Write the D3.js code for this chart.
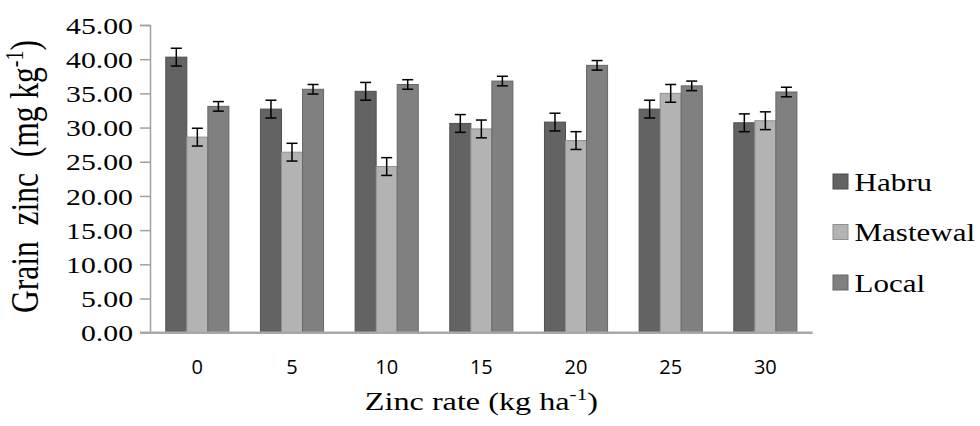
<!DOCTYPE html>
<html>
<head>
<meta charset="utf-8">
<script src="https://cdn.jsdelivr.net/npm/d3@7"></script>
<style>
  html, body { margin: 0; padding: 0; background: #fff; }
  svg { display: block; }
  .serif { font-family: "Liberation Serif", "Tinos", "Times New Roman", "DejaVu Serif", serif; }
  .sans { font-family: "Open Sans", "Noto Sans", sans-serif; }
</style>
</head>
<body>
<svg id="chart" width="980" height="426"></svg>
<script>
// ---- data ----
const categories = ["0", "5", "10", "15", "20", "25", "30"];
const seriesNames = ["Habru", "Mastewal", "Local"];
const habru    = [40.3, 32.7, 35.3, 30.6, 30.8, 32.7, 30.7];
const mastewal = [28.6, 26.4, 24.3, 29.8, 28.1, 35.0, 31.0];
const local    = [33.1, 35.6, 36.3, 36.8, 39.1, 36.1, 35.2];
const habruErr    = [1.3, 1.3, 1.3, 1.3, 1.3, 1.3, 1.3];
const mastewalErr = [1.3, 1.3, 1.3, 1.3, 1.3, 1.3, 1.3];
const localErr    = [0.7, 0.7, 0.7, 0.7, 0.7, 0.7, 0.7];
const yTicks = [0, 5, 10, 15, 20, 25, 30, 35, 40, 45];

const seriesValues = [habru, mastewal, local];
const seriesErrors = [habruErr, mastewalErr, localErr];
const colors = ["#636363", "#b3b3b3", "#808080"];
const strokes = ["#4f4f4f", "#8f8f8f", "#666666"];

const svg = d3.select("#chart");
const pLeft = 150, pRight = 812.7, pTop = 25, pBottom = 332.7;
const sx = 1.24; // horizontal stretch of the serif text in the reference

const x0 = d3.scaleBand().domain(categories).range([pLeft, pRight]).padding(0);
const x1 = d3.scaleBand().domain(seriesNames).range([0, x0.bandwidth()])
  .paddingInner(0).paddingOuter(0.75);
const y = d3.scaleLinear().domain([0, 45]).range([pBottom, pTop]);

// y axis
const yAxis = d3.axisLeft(y).tickValues(yTicks).tickSize(10).tickPadding(8)
  .tickFormat(d3.format(".2f"));
const gy = svg.append("g").attr("transform", `translate(${pLeft},0)`).call(yAxis);
gy.attr("font-family", null).attr("font-size", null);
gy.select(".domain").attr("stroke", "#a0a0a0").attr("stroke-width", 1.5);
gy.selectAll(".tick line").attr("stroke", "#a0a0a0").attr("stroke-width", 1.5);
gy.selectAll(".tick text").attr("class", "serif").style("font-size", "24px")
  .attr("fill", "#000").attr("x", 0).attr("dy", "0.34em")
  .attr("transform", `translate(-17,0) scale(${sx},1)`);

// bars
const data = [];
categories.forEach((c, i) => {
  seriesNames.forEach((s, j) => {
    data.push({ c, s, j, v: seriesValues[j][i], e: seriesErrors[j][i] });
  });
});

svg.append("g").selectAll("rect").data(data).join("rect")
  .attr("x", d => x0(d.c) + x1(d.s))
  .attr("y", d => y(d.v))
  .attr("width", x1.bandwidth())
  .attr("height", d => y(0) - y(d.v))
  .attr("fill", d => colors[d.j])
  .attr("stroke", d => strokes[d.j])
  .attr("stroke-width", 1);

// x axis
const xAxis = d3.axisBottom(x0).tickSize(0).tickPadding(27);
const gx = svg.append("g").attr("transform", `translate(0,${pBottom})`).call(xAxis);
gx.attr("font-family", null).attr("font-size", null);
gx.select(".domain").remove();
gx.append("line").attr("x1", pLeft - 10).attr("x2", pRight).attr("y1", 0).attr("y2", 0)
  .attr("stroke", "#a8a8a8").attr("stroke-width", 2.5);
gx.selectAll(".tick text").attr("class", "sans").style("font-size", "20px")
  .attr("fill", "#000");

// error bars
const cap = 5.5;
const eg = svg.append("g").attr("stroke", "#000").attr("stroke-width", 1.5);
data.forEach(d => {
  const cx = x0(d.c) + x1(d.s) + x1.bandwidth() / 2;
  eg.append("line").attr("x1", cx).attr("x2", cx).attr("y1", y(d.v + d.e)).attr("y2", y(d.v - d.e));
  eg.append("line").attr("x1", cx - cap).attr("x2", cx + cap).attr("y1", y(d.v + d.e)).attr("y2", y(d.v + d.e));
  eg.append("line").attr("x1", cx - cap).attr("x2", cx + cap).attr("y1", y(d.v - d.e)).attr("y2", y(d.v - d.e));
});

// x title
const xt = svg.append("text").attr("class", "serif")
  .attr("transform", `translate(${(pLeft + pRight) / 2},410) scale(${sx},1)`)
  .attr("text-anchor", "middle").style("font-size", "26px");
xt.append("tspan").text("Zinc rate (kg ha");
xt.append("tspan").attr("dy", -10).style("font-size", "17px").text("-1");
xt.append("tspan").attr("dy", 10).text(")");

// y title
const yt = svg.append("text").attr("class", "serif")
  .attr("transform", `translate(38,176.5) scale(${sx},1) rotate(-90)`)
  .attr("text-anchor", "middle").style("font-size", "31.5px")
  .style("white-space", "pre");
yt.append("tspan").text("Grain  zinc  (mg kg");
yt.append("tspan").attr("dy", -12).style("font-size", "20px").text("-1");
yt.append("tspan").attr("dy", 12).text(")");

// legend
const lg = svg.append("g");
seriesNames.forEach((s, j) => {
  const ly = 181.5 + j * 50.5;
  lg.append("rect").attr("x", 833).attr("y", ly - 7.5).attr("width", 15).attr("height", 15)
    .attr("fill", colors[j]).attr("stroke", strokes[j]).attr("stroke-width", 1);
  lg.append("text").attr("class", "serif")
    .attr("transform", `translate(854.5,${ly + 9}) scale(${sx},1)`)
    .style("font-size", "25px").text(s);
});
</script>
</body>
</html>
